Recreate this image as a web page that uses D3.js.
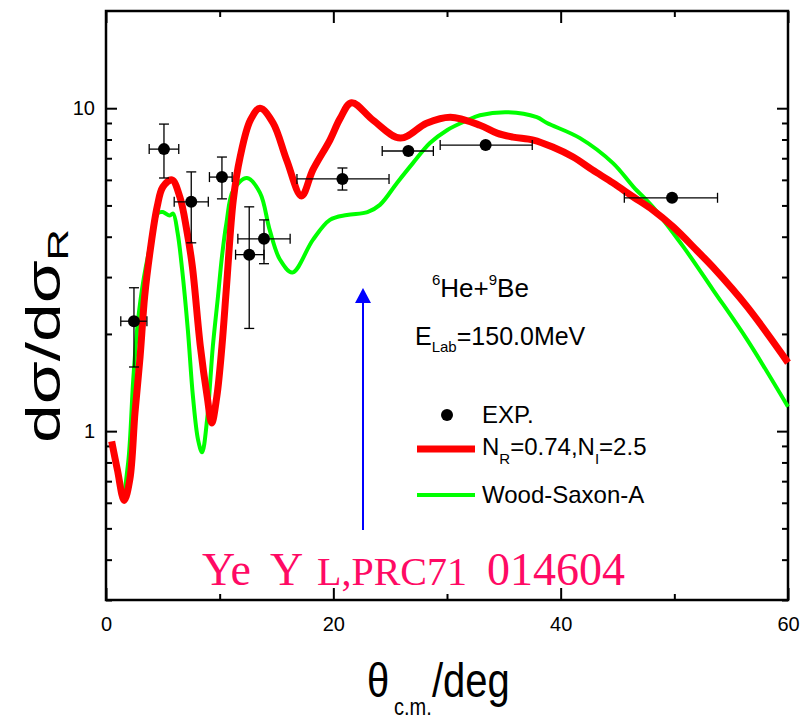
<!DOCTYPE html>
<html>
<head>
<meta charset="utf-8">
<script src="https://cdn.jsdelivr.net/npm/d3@7"></script>
<style>
body { margin: 0; background: #fff; }
text { font-family: "Liberation Sans", Arial, sans-serif; }
</style>
</head>
<body>
<svg id="chart"></svg>
<script>
// 실험 데이터 (theta, dsigma/dsigmaR)
const expX = [2.46, 5.1, 7.5, 10.2, 12.6, 13.9, 20.8, 26.6, 33.4, 49.8];
const expY = [2.19, 7.47, 5.13, 6.12, 3.52, 3.94, 6.04, 7.37, 7.69, 5.28];
const expXLo = [1.3, 3.8, 6.0, 9.1, 11.4, 11.6, 16.8, 24.3, 29.4, 45.6];
const expXHi = [3.6, 6.4, 9.0, 11.1, 13.9, 16.2, 24.9, 28.8, 37.5, 53.8];
const expYLo = [1.58, 6.08, 3.83, 5.24, 2.08, 3.30, 5.58, 7.37, 7.69, 5.28];
const expYHi = [2.78, 8.93, 6.35, 7.06, 4.95, 4.51, 6.53, 7.37, 7.69, 5.28];

// N_R=0.74, N_I=2.5 곡선
const redX = [0.5, 1.0, 1.6, 2.1, 2.55, 3.0, 3.4, 3.9, 4.5, 5.0, 5.8, 6.5, 7.1, 7.6, 8.3, 8.9, 9.3, 9.75,
  10.2, 10.6, 11.2, 11.8, 12.7, 13.55, 14.7, 15.9, 17.2, 18.2, 19.7, 20.6, 21.6, 23.5, 25.9, 28.2, 30.3,
  32.9, 34.4, 35.8, 37.6, 39.3, 41.1, 42.8, 44.6, 46.4, 48.1, 49.9, 52.0, 53.4, 56.4, 60.0];
const redY = [0.93, 0.76, 0.61, 0.71, 1.14, 1.70, 2.61, 3.65, 4.95, 5.7, 6.0, 5.31, 4.2, 3.23, 1.83, 1.28, 1.06, 1.28,
  1.83, 2.8, 5.2, 7.06, 9.18, 10.0, 9.0, 6.9, 5.35, 6.44, 7.97, 9.3, 10.4, 9.18, 8.08, 8.99, 9.38,
  8.86, 8.37, 8.14, 7.97, 7.58, 7.06, 6.44, 5.87, 5.31, 4.84, 4.29, 3.62, 3.22, 2.43, 1.63];

// Wood-Saxon-A 곡선
const greenX = [0.5, 1.0, 1.5, 1.95, 2.4, 2.8, 3.3, 4.0, 4.6, 5.0, 5.6, 5.9, 6.3, 6.7, 7.2, 7.65, 8.1, 8.45,
  8.9, 9.4, 9.85, 10.2, 10.6, 11.2, 12.4, 13.55, 14.4, 15.3, 16.4, 18.2, 19.7, 21.2, 23.0, 24.1,
  25.6, 27.0, 28.5, 30.0, 31.8, 32.9, 35.4, 37.9, 38.8, 41.7, 44.6, 46.4, 48.1, 50.8, 53.4, 56.4, 60.0];
const greenY = [0.90, 0.76, 0.65, 0.80, 1.45, 2.17, 2.94, 3.91, 4.74, 4.77, 4.65, 4.72, 4.11, 3.16, 2.06, 1.28, 0.94, 0.86,
  1.09, 1.83, 2.61, 3.47, 4.42, 5.58, 6.08, 5.47, 4.2, 3.4, 3.1, 3.91, 4.51, 4.67, 4.77, 5.02,
  5.87, 6.76, 7.8, 8.55, 9.18, 9.51, 9.72, 9.38, 9.0, 8.08, 6.76, 5.71, 4.95, 3.72, 2.74, 1.92, 1.19];

const xMajor = [0, 20, 40, 60];
const xMinor = [10, 30, 50];
const yMajor = [1, 10];
const yMinor = [0.3, 0.4, 0.5, 0.6, 0.7, 0.8, 0.9, 2, 3, 4, 5, 6, 7, 8, 9];

const width = 803;
const height = 719;
const padL = 106, padR = 788, padT = 11, padB = 600;

const svg = d3.select("#chart")
    .attr("width", width)
    .attr("height", height);

const x = d3.scaleLinear().domain([0, 60]).range([padL, padR]);
const y = d3.scaleLog().domain([0.3, 20]).range([padB, padT]);

// 축 눈금 (안쪽 방향)
function styleAxis(g) {
    g.select(".domain").remove();
    g.selectAll(".tick line").attr("stroke", "#000").attr("stroke-width", 2);
    g.selectAll("text").style("font-size", "20px").attr("fill", "#000");
}

svg.append("g").attr("transform", `translate(0,${padB})`)
    .call(d3.axisBottom(x).tickValues(xMajor).tickSize(-12).tickSizeOuter(0).tickPadding(17))
    .call(styleAxis);
svg.append("g").attr("transform", `translate(0,${padB})`)
    .call(d3.axisBottom(x).tickValues(xMinor).tickSize(-6).tickFormat(""))
    .call(styleAxis);
svg.append("g").attr("transform", `translate(0,${padT})`)
    .call(d3.axisTop(x).tickValues(xMajor).tickSize(-12).tickFormat(""))
    .call(styleAxis);
svg.append("g").attr("transform", `translate(0,${padT})`)
    .call(d3.axisTop(x).tickValues(xMinor).tickSize(-6).tickFormat(""))
    .call(styleAxis);

svg.append("g").attr("transform", `translate(${padL},0)`)
    .call(d3.axisLeft(y).tickValues(yMajor).tickSize(-11).tickPadding(11).tickFormat(d3.format("d")))
    .call(styleAxis);
svg.append("g").attr("transform", `translate(${padL},0)`)
    .call(d3.axisLeft(y).tickValues(yMinor).tickSize(-6).tickFormat(""))
    .call(styleAxis);
svg.append("g").attr("transform", `translate(${padR},0)`)
    .call(d3.axisRight(y).tickValues(yMajor).tickSize(-11).tickFormat(""))
    .call(styleAxis);
svg.append("g").attr("transform", `translate(${padR},0)`)
    .call(d3.axisRight(y).tickValues(yMinor).tickSize(-6).tickFormat(""))
    .call(styleAxis);

// 테두리
svg.append("rect")
    .attr("x", padL).attr("y", padT)
    .attr("width", padR - padL).attr("height", padB - padT)
    .attr("fill", "none").attr("stroke", "#000").attr("stroke-width", 2.5);

// 곡선
const line = d3.line()
    .x(d => x(d[0]))
    .y(d => y(d[1]))
    .curve(d3.curveCatmullRom.alpha(0.5));

svg.append("path")
    .datum(greenX.map((v, i) => [v, greenY[i]]))
    .attr("d", line)
    .attr("fill", "none")
    .attr("stroke", "#00ff00")
    .attr("stroke-width", 4);

svg.append("path")
    .datum(redX.map((v, i) => [v, redY[i]]))
    .attr("d", line)
    .attr("fill", "none")
    .attr("stroke", "#ff0000")
    .attr("stroke-width", 7);

// 실험점 + 오차막대
const pts = expX.map((v, i) => ({ x: v, y: expY[i], xl: expXLo[i], xh: expXHi[i], yl: expYLo[i], yh: expYHi[i] }));
const eb = svg.append("g").attr("stroke", "#000").attr("stroke-width", 1.3);
pts.forEach(p => {
    eb.append("line").attr("x1", x(p.xl)).attr("x2", x(p.xh)).attr("y1", y(p.y)).attr("y2", y(p.y));
    eb.append("line").attr("x1", x(p.xl)).attr("x2", x(p.xl)).attr("y1", y(p.y) - 5).attr("y2", y(p.y) + 5);
    eb.append("line").attr("x1", x(p.xh)).attr("x2", x(p.xh)).attr("y1", y(p.y) - 5).attr("y2", y(p.y) + 5);
    if (p.yh > p.yl) {
        eb.append("line").attr("x1", x(p.x)).attr("x2", x(p.x)).attr("y1", y(p.yl)).attr("y2", y(p.yh));
        eb.append("line").attr("x1", x(p.x) - 5).attr("x2", x(p.x) + 5).attr("y1", y(p.yl)).attr("y2", y(p.yl));
        eb.append("line").attr("x1", x(p.x) - 5).attr("x2", x(p.x) + 5).attr("y1", y(p.yh)).attr("y2", y(p.yh));
    }
});
svg.selectAll(".pt")
    .data(pts)
    .enter()
    .append("circle")
    .attr("class", "pt")
    .attr("cx", d => x(d.x))
    .attr("cy", d => y(d.y))
    .attr("r", 6)
    .attr("fill", "#000");

// 파란 화살표
svg.append("line")
    .attr("x1", 363).attr("x2", 363).attr("y1", 530).attr("y2", 300)
    .attr("stroke", "#0000ff").attr("stroke-width", 2);
svg.append("path")
    .attr("d", "M363,288 L355,303 L371,303 Z")
    .attr("fill", "#0000ff");

// 주석
const t1 = svg.append("text").attr("x", 432).attr("y", 297).style("font-size", "26px");
t1.append("tspan").text("6").style("font-size", "15px").attr("dy", -12);
t1.append("tspan").text("He+").attr("dy", 12);
t1.append("tspan").text("9").style("font-size", "15px").attr("dy", -12);
t1.append("tspan").text("Be").attr("dy", 12);

const t2 = svg.append("text").attr("x", 415).attr("y", 345).style("font-size", "25px");
t2.append("tspan").text("E");
t2.append("tspan").text("Lab").style("font-size", "15px").attr("dy", 7);
t2.append("tspan").text("=150.0MeV").attr("dy", -7);

// 범례
svg.append("circle").attr("cx", 447).attr("cy", 415).attr("r", 6).attr("fill", "#000");
svg.append("text").attr("x", 482).attr("y", 423).style("font-size", "24px").text("EXP.");
svg.append("line").attr("x1", 417).attr("x2", 475).attr("y1", 449).attr("y2", 449)
    .attr("stroke", "#ff0000").attr("stroke-width", 7);
const t3 = svg.append("text").attr("x", 482).attr("y", 455).style("font-size", "24px");
t3.append("tspan").text("N");
t3.append("tspan").text("R").style("font-size", "15px").attr("dy", 9);
t3.append("tspan").text("=0.74,N").attr("dy", -9);
t3.append("tspan").text("I").style("font-size", "15px").attr("dy", 9);
t3.append("tspan").text("=2.5").attr("dy", -9);
svg.append("line").attr("x1", 417).attr("x2", 475).attr("y1", 495).attr("y2", 495)
    .attr("stroke", "#00ff00").attr("stroke-width", 4);
svg.append("text").attr("x", 482).attr("y", 503).style("font-size", "24px").text("Wood-Saxon-A");

// 분홍 참고문헌
const t4 = svg.append("text").attr("y", 585)
    .style("font-family", "'Liberation Serif', 'Times New Roman', serif")
    .attr("fill", "#ff0a64").style("font-size", "46px");
t4.append("tspan").attr("x", 202).text("Ye");
t4.append("tspan").attr("x", 270).text("Y");
t4.append("tspan").attr("x", 317).text("L,PRC71").style("font-size", "40px");
t4.append("tspan").attr("x", 487).text("014604");

// 축 제목 (원본은 세로로 늘어난 글꼴)
const xt = svg.append("text").attr("transform", "translate(367,697) scale(1,1.2)").style("font-size", "40px");
xt.append("tspan").attr("x", 0).text("θ");
xt.append("tspan").attr("x", 27).attr("dy", 15).text("c.m.").style("font-size", "20px");
xt.append("tspan").attr("x", 65).attr("dy", -15).text("/deg");

const yt = svg.append("text").attr("transform", "translate(60,443) rotate(-90) scale(1.45,1)").style("font-size", "48px");
yt.append("tspan").text("dσ/dσ");
yt.append("tspan").text("R").style("font-size", "30px").attr("dy", 8);
</script>
</body>
</html>
